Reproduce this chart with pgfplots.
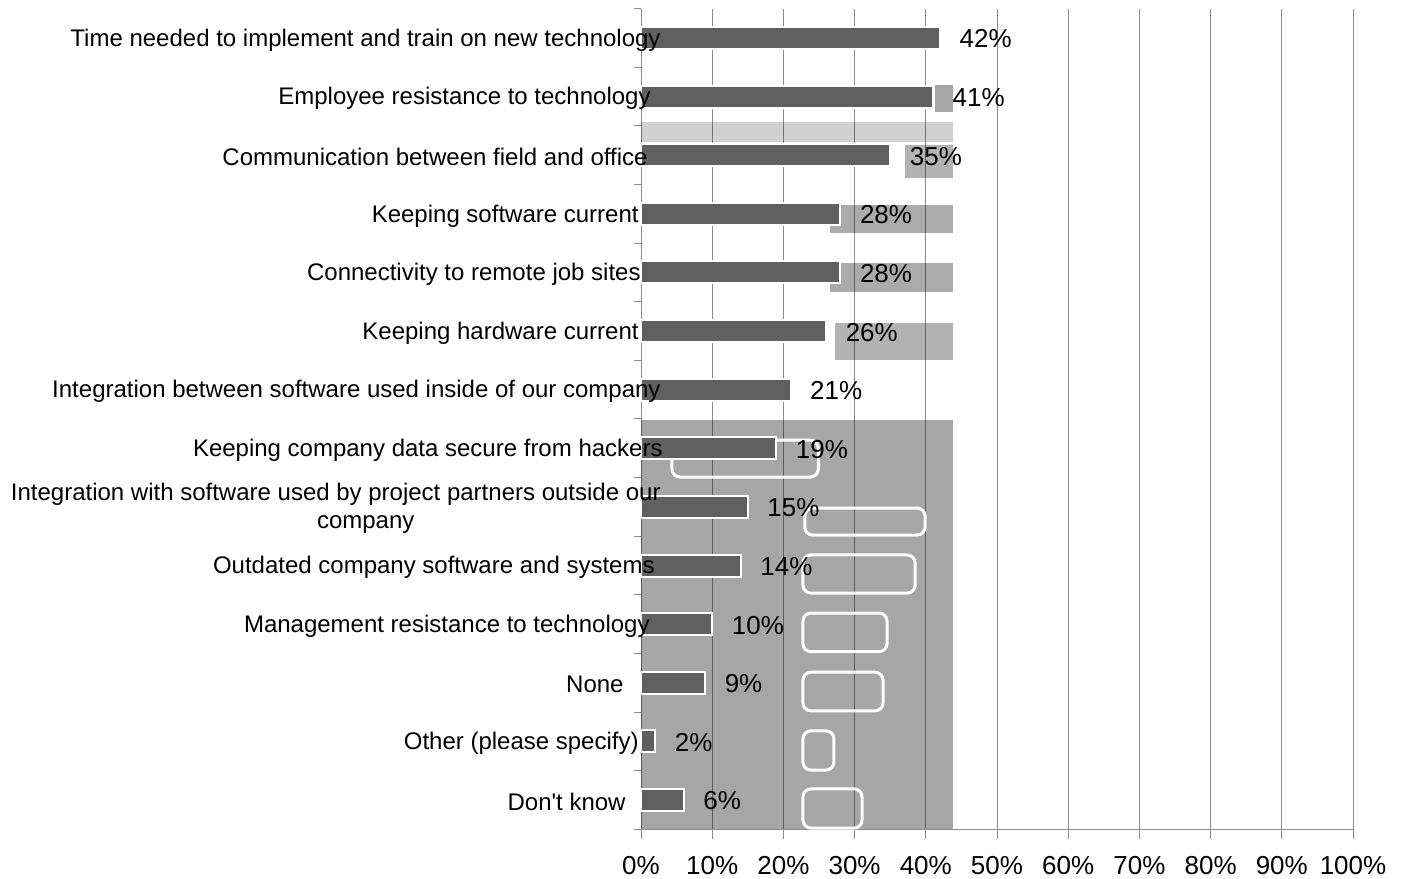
\documentclass[border=0pt]{standalone}
\usepackage{fontspec}
\setmainfont{Liberation Sans}
\usepackage{pgfplots}
\pgfplotsset{compat=1.18}
\definecolor{bargray}{HTML}{606060}
\definecolor{gridgray}{HTML}{8C8C8C}
\newcommand{\sh}[1]{\hbox{\kern#1}}
% tick labels above the bars, as in the original
\pgfplotsset{
  layers/labelsontop/.define layer set={
    axis background,axis grid,axis ticks,axis lines,pre main,main,
    axis tick labels,axis descriptions,axis foreground
  }{/pgfplots/layers/standard},
}

\begin{document}
\begin{tikzpicture}
\begin{axis}[
  set layers=labelsontop,
  at={(0pt,0pt)}, anchor=south west,
  scale only axis, width=356pt, height=410.3pt,
  xbar, bar width=11pt,
  xmin=0, xmax=100, ymin=0.5, ymax=14.5,
  axis x line*=bottom, axis y line*=left,
  axis line style={-, draw=gridgray, line width=0.5pt},
  xmajorgrids, grid style={draw=gridgray, line width=0.5pt},
  xtick={0,10,...,100},
  xticklabels={0\%,10\%,20\%,30\%,40\%,50\%,60\%,70\%,80\%,90\%,100\%},
  ytick={1,...,14},
  yticklabels={
    Don\textquotesingle t know\sh{8pt},
    Other (please specify)\sh{1.5pt},
    None\sh{9pt},
    Management resistance to technology\sh{-4pt},
    Outdated company software and systems\sh{-6.5pt},
    {\begin{tabular}{@{}c@{}}Integration with software used by project partners outside our\\\hspace*{30pt}company\end{tabular}\sh{-9.5pt}},
    Keeping company data secure from hackers\sh{-10.5pt},
    Integration between software used inside of our company\sh{-9.5pt},
    Keeping hardware current\sh{1.5pt},
    Connectivity to remote job sites\sh{0.5pt},
    Keeping software current\sh{1.5pt},
    Communication between field and office\sh{-3pt},
    Employee resistance to technology\sh{-4.5pt},
    Time needed to implement and train on new technology\sh{-9.5pt}},
  minor ytick={0.5,1.5,...,14.5},
  tick align=outside, major tick length=5pt, minor tick length=3.5pt,
  tick style={draw=gridgray, line width=0.5pt},
  major y tick style={draw=none},
  xticklabel style={font=\fontsize{13}{15}\selectfont, yshift=-5pt},
  yticklabel style={font=\fontsize{12}{14}\selectfont, anchor=east, inner sep=0pt, xshift=5.5pt, yshift=-1pt},
  point meta=x,
  nodes near coords={\pgfmathprintnumber[assume math mode=true]{\pgfplotspointmeta}\%},
  every node near coord/.append style={font=\fontsize{13}{15}\selectfont, anchor=west, xshift=6pt, yshift=-0.5pt, text=black},
]
\addplot[fill=bargray, draw=white, line width=1pt] coordinates {
  (42,14) (41,13) (35,12) (28,11) (28,10) (26,9) (21,8)
  (19,7) (15,6) (14,5) (10,4) (9,3) (2,2) (6,1)
};
\begin{pgfonlayer}{pre main}
  \fill[black, fill opacity=0.35] (axis cs:0,0.5) rectangle (axis cs:43.8,7.483);
  \fill[black, fill opacity=0.18] (axis cs:0,12.226) rectangle (axis cs:43.8,12.567);
  \fill[black, fill opacity=0.35] (axis cs:41.3,12.74) rectangle (axis cs:43.8,13.2);
  \fill[black, fill opacity=0.3] (axis cs:37.1,11.61) rectangle (axis cs:43.8,12.175);
  \fill[black, fill opacity=0.33] (axis cs:26.5,10.67) rectangle (axis cs:43.8,11.15);
  \fill[black, fill opacity=0.33] (axis cs:26.5,9.67) rectangle (axis cs:43.8,10.16);
  \fill[black, fill opacity=0.3] (axis cs:27.2,8.51) rectangle (axis cs:43.8,9.14);
  \draw[white, line width=1.5pt, rounded corners=4pt] (axis cs:4.35,6.51) rectangle (axis cs:24.9,7.14);
  \draw[white, line width=1.5pt, rounded corners=4pt] (axis cs:23.0,5.52) rectangle (axis cs:39.9,5.98);
  \draw[white, line width=1.5pt, rounded corners=4pt] (axis cs:22.75,4.53) rectangle (axis cs:38.5,5.18);
  \draw[white, line width=1.5pt, rounded corners=4pt] (axis cs:22.75,3.53) rectangle (axis cs:34.55,4.19);
  \draw[white, line width=1.5pt, rounded corners=4pt] (axis cs:22.75,2.52) rectangle (axis cs:33.99,3.18);
  \draw[white, line width=1.5pt, rounded corners=4pt] (axis cs:22.75,1.51) rectangle (axis cs:27.1,2.18);
  \draw[white, line width=1.5pt, rounded corners=4pt] (axis cs:22.75,0.52) rectangle (axis cs:31.04,1.19);
\end{pgfonlayer}
\end{axis}
\pgfresetboundingbox
\path[use as bounding box] (-320.5pt,-24.35pt) rectangle (385.5pt,414.65pt);
\end{tikzpicture}
\end{document}
